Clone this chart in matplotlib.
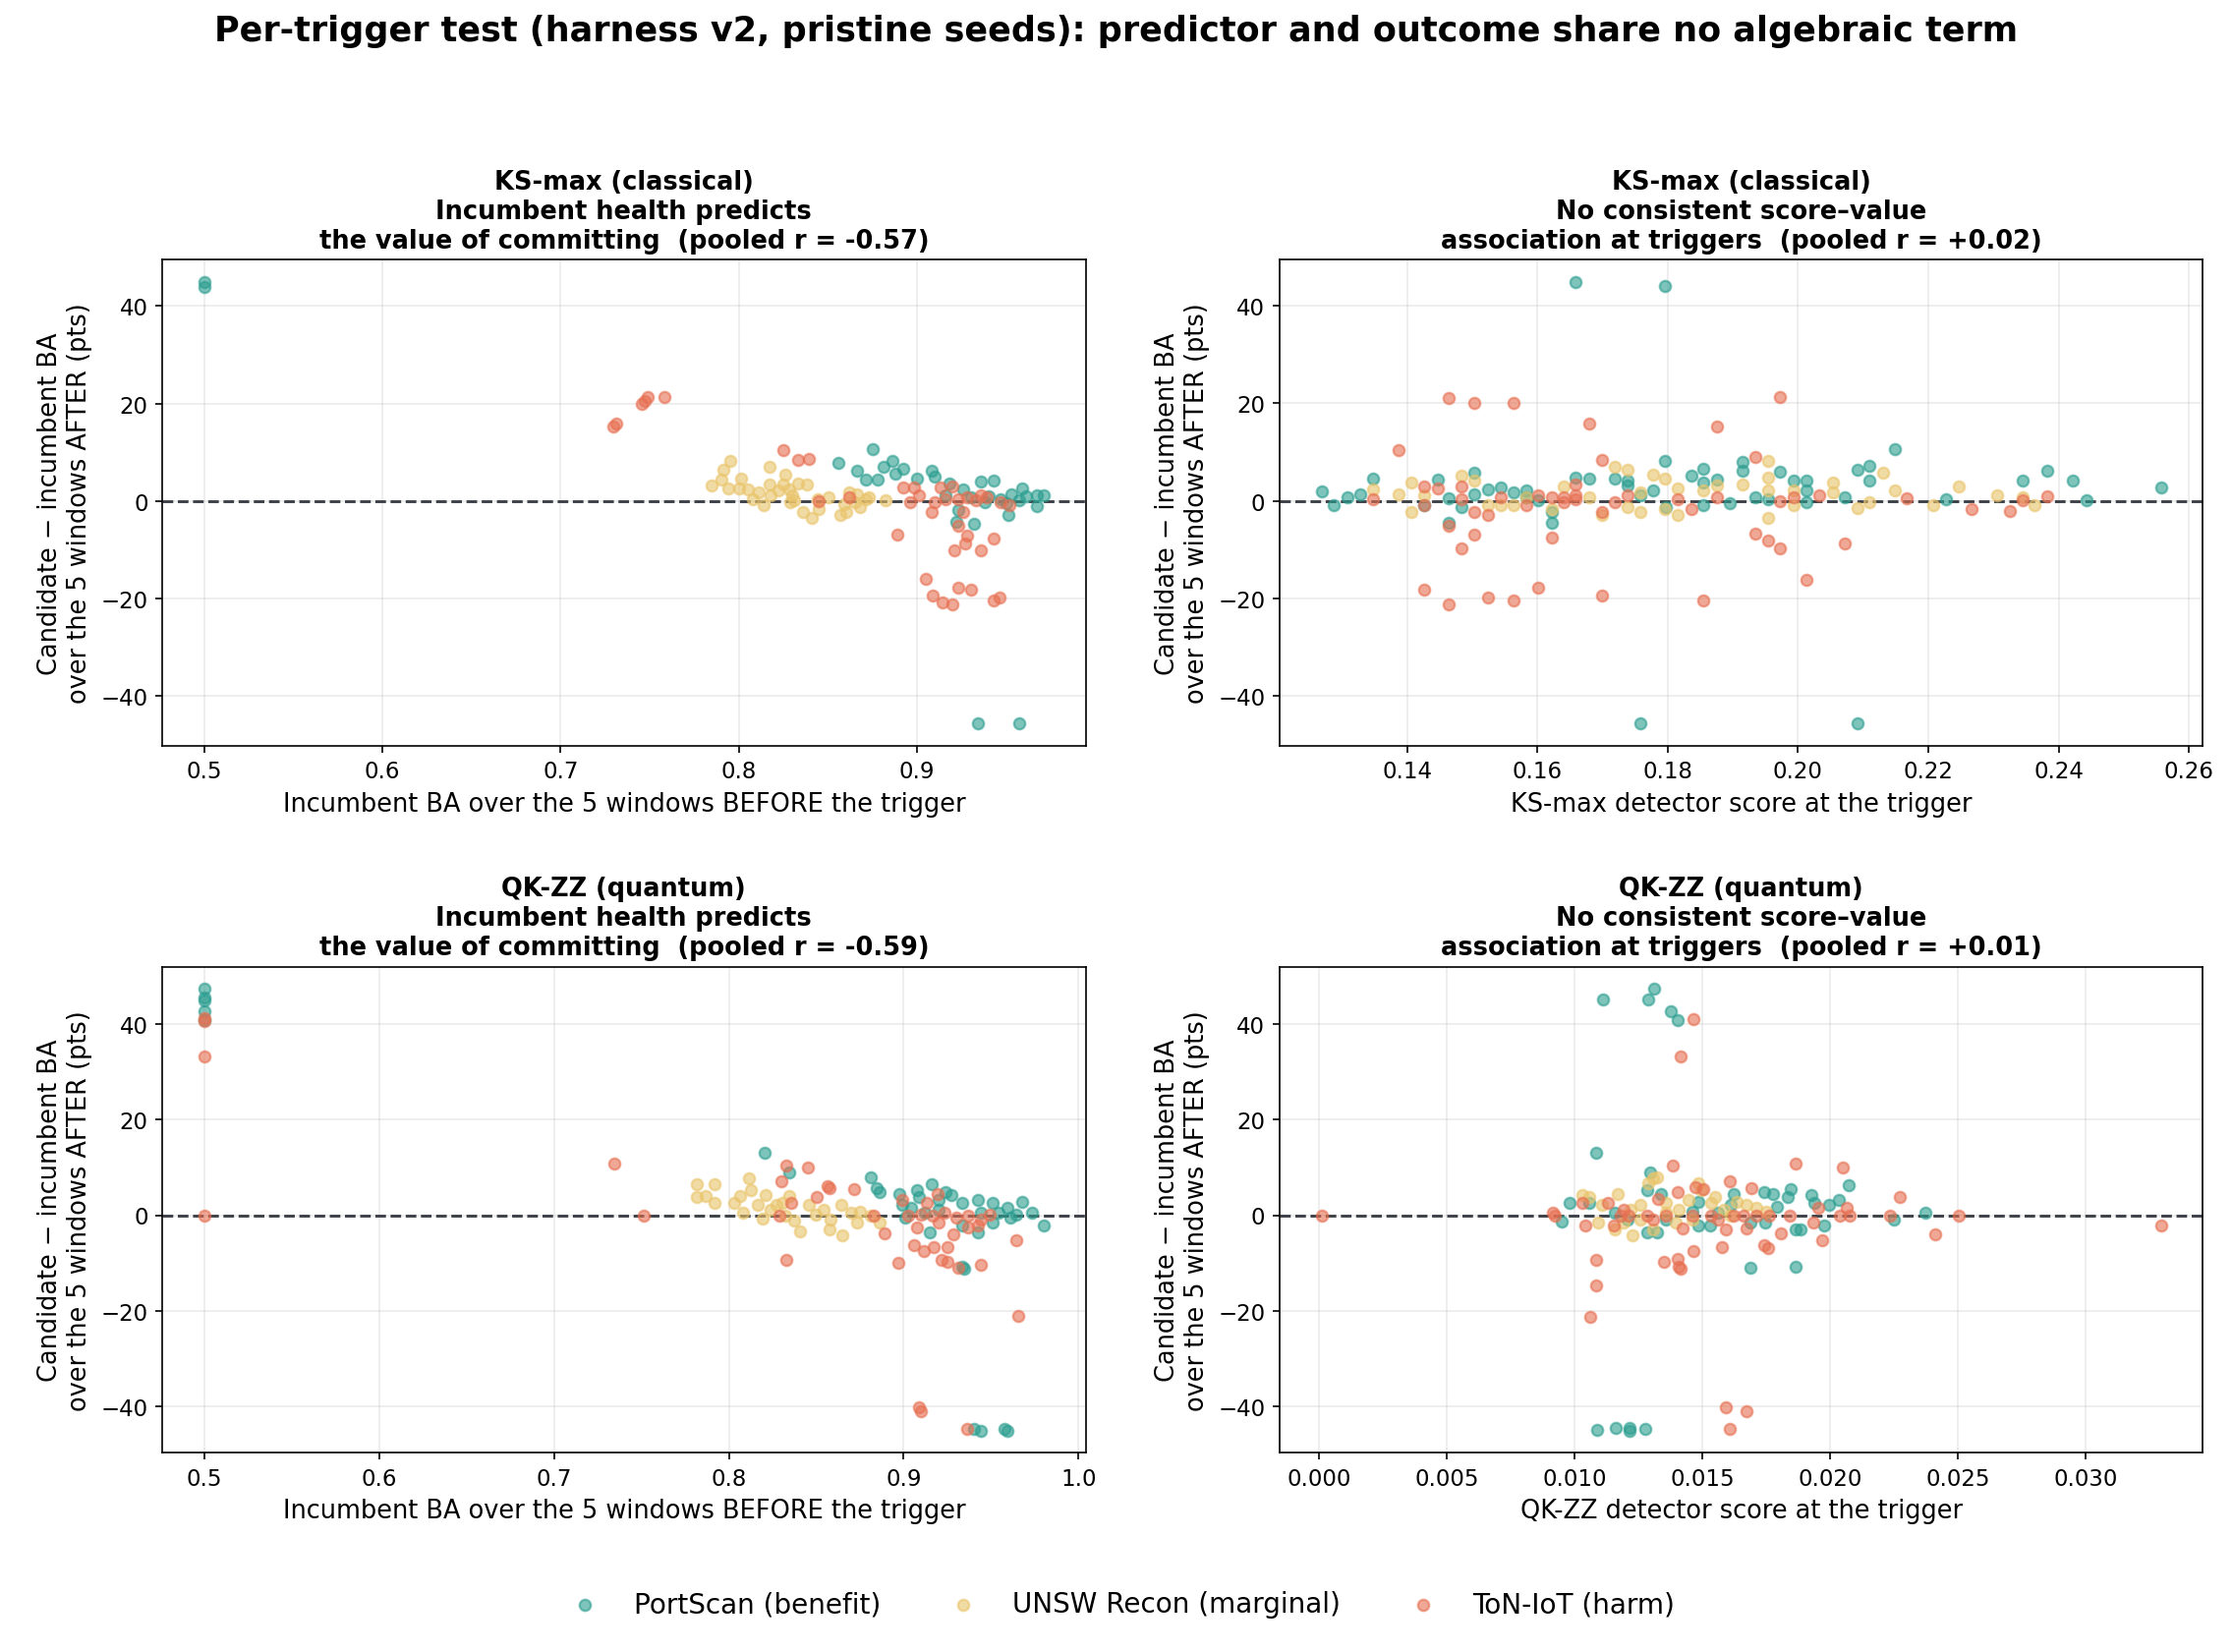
import numpy as np
import matplotlib.pyplot as plt

# ---- data ----
# panel A: KS-max, incumbent BA before vs delta after
ks_health_portscan = [
    (0.5, 45.0), (0.5, 44.0),
    (0.856, 7.9), (0.866, 6.3), (0.871, 4.4), (0.875, 10.6), (0.878, 4.5), (0.881, 7.0),
    (0.886, 8.2), (0.888, 5.6), (0.892, 6.6), (0.900, 4.6), (0.908, 6.3), (0.910, 5.1),
    (0.918, 3.7), (0.926, 2.4), (0.936, 4.1), (0.943, 4.3), (0.953, 1.4), (0.959, 2.5),
    (0.967, 1.1), (0.971, 1.1), (0.967, -1.1), (0.951, -2.9), (0.932, -4.6), (0.922, -4.3),
    (0.923, -1.9), (0.938, -0.3), (0.947, 0.4), (0.957, 0.1), (0.961, 0.9), (0.930, 0.7),
    (0.916, 1.1), (0.940, 1.0), (0.950, -0.5), (0.934, -45.6), (0.957, -45.6),
]
ks_health_unsw = [
    (0.7845, 3.3), (0.795, 8.2), (0.791, 6.4), (0.790, 4.4), (0.801, 4.7), (0.800, 2.5),
    (0.794, 2.5), (0.805, 2.4), (0.808, 0.4), (0.814, -0.8), (0.817, 7.1), (0.826, 5.4),
    (0.817, 3.4), (0.825, 3.4), (0.828, 2.4), (0.833, 3.7), (0.838, 3.4), (0.829, -0.3),
    (0.836, -2.3), (0.841, -3.5), (0.845, -1.6), (0.850, 0.7), (0.857, -2.9), (0.862, 1.7),
    (0.865, -0.3), (0.868, -1.3), (0.866, 1.4), (0.873, 0.7), (0.882, 0.1), (0.860, -2.3),
    (0.830, 1.1), (0.818, 1.1), (0.811, 1.7), (0.822, 2.1), (0.844, 0.4), (0.831, 0.1),
    (0.859, -0.6), (0.871, 0.4),
]
ks_health_toniot = [
    (0.7297, 15.3), (0.7314, 15.9), (0.7456, 20.0), (0.747, 20.6), (0.749, 21.3), (0.758, 21.3),
    (0.825, 10.4), (0.833, 8.4), (0.839, 8.6), (0.845, -0.1), (0.862, 0.7), (0.889, -6.8),
    (0.892, 2.9), (0.898, 2.7), (0.901, 1.1), (0.908, -2.3), (0.913, 2.7), (0.920, 3.1),
    (0.910, -0.3), (0.916, 0.4), (0.923, 0.4), (0.928, 0.7), (0.933, 0.1), (0.939, 0.7),
    (0.947, -0.3), (0.952, -0.9), (0.923, -5.0), (0.928, -7.0), (0.927, -8.6), (0.921, -10.0),
    (0.936, -10.0), (0.943, -7.6), (0.905, -16.0), (0.909, -19.3), (0.914, -20.7),
    (0.920, -21.2), (0.923, -17.8), (0.930, -18.2), (0.943, -20.3), (0.946, -19.8),
    (0.896, -0.3), (0.926, -2.3), (0.936, 1.1),
]

# panel B: KS-max, detector score vs delta after
ks_score_portscan = [
    (0.1269, 2.0), (0.1288, -0.8), (0.1308, 0.7), (0.1328, 1.4), (0.1348, 4.6), (0.1427, -0.9),
    (0.1447, 4.3), (0.1464, -4.4), (0.1464, 0.5), (0.1484, -1.3), (0.1504, 5.8), (0.1504, 1.4),
    (0.1524, 2.4), (0.1544, 2.7), (0.1563, 1.7), (0.1583, 2.1), (0.1583, 0.7), (0.1602, 0.1),
    (0.1622, -4.6), (0.1622, -2.3), (0.1659, 44.9), (0.1659, 4.8), (0.1679, 4.6), (0.1719, 4.6),
    (0.1739, 4.1), (0.1739, 3.1), (0.1758, 1.1), (0.1758, -45.6), (0.1778, 2.1), (0.1796, 44.1),
    (0.1796, 8.1), (0.1798, -1.3), (0.1836, 5.1), (0.1855, 6.6), (0.1855, 3.7), (0.1855, -0.9),
    (0.1875, 4.4), (0.1895, -0.4), (0.1915, 8.0), (0.1915, 6.1), (0.1935, 0.7), (0.1954, 0.4),
    (0.1973, 5.9), (0.1993, 4.2), (0.2013, 4.2), (0.2013, 2.1), (0.2013, -0.3), (0.2072, 0.7),
    (0.2091, 6.3), (0.2091, -45.6), (0.2110, 7.1), (0.2110, 4.2), (0.2148, 10.6), (0.2227, 0.4),
    (0.2344, 4.2), (0.2383, 6.1), (0.2422, 4.2), (0.2442, 0.1), (0.2557, 2.7),
]
ks_score_unsw = [
    (0.1348, 2.3), (0.1387, 1.4), (0.1407, 3.7), (0.1407, -2.3), (0.1427, 1.1), (0.1484, 5.1),
    (0.1504, 4.1), (0.1524, -0.9), (0.1544, -0.9), (0.1563, -0.9), (0.1583, 0.7), (0.1622, -1.6),
    (0.1640, 2.9), (0.1679, 0.7), (0.1699, -2.9), (0.1719, 7.0), (0.1739, 6.4), (0.1739, -1.3),
    (0.1758, -2.3), (0.1758, 1.7), (0.1778, 5.4), (0.1796, 4.6), (0.1796, -1.6), (0.1816, 2.5),
    (0.1816, -2.9), (0.1855, 2.1), (0.1875, 3.1), (0.1915, 3.4), (0.1954, 8.1), (0.1954, 4.8),
    (0.1954, 2.1), (0.1954, -3.5), (0.1993, 2.1), (0.1993, -0.9), (0.2053, 3.7), (0.2053, 1.7),
    (0.2091, -1.5), (0.2110, -0.3), (0.2130, 5.8), (0.2148, 2.1), (0.2207, -0.9), (0.2247, 2.9),
    (0.2305, 1.1), (0.2363, -0.9), (0.2344, 0.7),
]
ks_score_toniot = [
    (0.1348, 0.4), (0.1387, 10.4), (0.1427, 2.9), (0.1427, -0.9), (0.1427, -18.2), (0.1447, 2.5),
    (0.1464, 21.1), (0.1464, -5.1), (0.1464, -21.2), (0.1484, 2.9), (0.1484, 0.4), (0.1484, -9.8),
    (0.1504, 20.1), (0.1504, -2.3), (0.1504, -7.0), (0.1524, -19.9), (0.1524, -2.9), (0.1544, 0.7),
    (0.1563, 20.0), (0.1563, -20.5), (0.1583, -0.9), (0.1602, -17.8), (0.1602, 1.1), (0.1622, 0.7),
    (0.1622, -7.6), (0.1640, -0.3), (0.1659, 3.4), (0.1659, 0.4), (0.1679, 15.9), (0.1699, 8.4),
    (0.1699, -2.3), (0.1699, -19.3), (0.1719, -0.3), (0.1739, 1.1), (0.1816, 0.4), (0.1836, -1.6),
    (0.1855, -20.5), (0.1875, 15.3), (0.1875, 0.7), (0.1935, 9.0), (0.1935, -6.8), (0.1954, -8.2),
    (0.1973, 21.3), (0.1973, -9.8), (0.1973, -0.1), (0.1993, 0.7), (0.2013, -16.1), (0.2033, 1.1),
    (0.2072, -8.8), (0.2167, 0.5), (0.2266, -1.6), (0.2325, -2.1), (0.2344, 0.1), (0.2383, 0.9),
    (0.1640, 0.7), (0.1659, 1.1),
]

# panel C: QK-ZZ, incumbent BA before vs delta after
qk_health_portscan = [
    (0.5, 47.3), (0.5, 45.4), (0.5, 44.9), (0.5, 42.7), (0.5, 40.8),
    (0.8203, 13.0), (0.8347, 9.0), (0.8811, 7.9), (0.8845, 5.6), (0.8863, 4.9), (0.8976, 4.4),
    (0.8993, 2.2), (0.9079, 5.2), (0.9090, 3.9), (0.9158, 6.4), (0.9199, 3.2), (0.9240, 4.9),
    (0.9275, 4.2), (0.9337, 2.5), (0.9423, 3.2), (0.9509, 2.5), (0.9595, 1.5), (0.9680, 2.8),
    (0.9732, 0.6), (0.9801, -2.1), (0.9010, -0.5), (0.9148, -3.5), (0.9337, -2.2), (0.9423, -3.6),
    (0.9509, -1.6), (0.9612, -0.5), (0.9337, -10.7), (0.9344, -11.1), (0.9405, -44.6),
    (0.9440, -45.0), (0.9577, -44.6), (0.9595, -45.0), (0.9199, 1.2), (0.9440, 0.5),
    (0.9543, 0.5), (0.9646, 0.1), (0.9120, 0.5), (0.9045, 1.5),
]
qk_health_unsw = [
    (0.7818, 6.4), (0.7921, 6.4), (0.7818, 3.9), (0.7866, 4.0), (0.7921, 2.6), (0.8031, 2.5),
    (0.8065, 4.0), (0.8117, 7.6), (0.8127, 5.2), (0.8168, 2.2), (0.8210, 4.2), (0.8082, 0.5),
    (0.8196, -0.7), (0.8271, 2.2), (0.8347, 4.0), (0.8323, -0.2), (0.8375, -1.2), (0.8409, -3.3),
    (0.8460, 2.2), (0.8495, 0.1), (0.8540, 1.2), (0.8574, -2.9), (0.8581, -0.9), (0.8643, 2.2),
    (0.8650, -4.3), (0.8701, 0.5), (0.8736, -1.6), (0.8753, 0.8), (0.8814, -0.2), (0.8863, -1.6),
    (0.8306, 2.5), (0.8237, 1.2),
]
qk_health_toniot = [
    (0.5, 41.2), (0.5, 40.6), (0.5, 33.2), (0.5, 0.0), (0.7344, 10.7), (0.7515, 0.0),
    (0.8289, 0.0), (0.8299, 7.1), (0.8330, 10.3), (0.8357, 2.6), (0.8330, -9.4), (0.8454, 10.0),
    (0.8505, 3.9), (0.8564, 6.0), (0.8574, 5.6), (0.8718, 5.4), (0.8828, -0.2), (0.8890, -3.9),
    (0.8969, -10.0), (0.8993, 3.2), (0.9062, -6.3), (0.9079, -2.6), (0.9113, -7.5), (0.9131, 2.5),
    (0.9172, -6.6), (0.9192, 4.5), (0.9216, -9.4), (0.9251, -6.6), (0.9251, -9.8), (0.9285, -4.1),
    (0.9313, -10.9), (0.9089, -40.2), (0.9096, -40.9), (0.9364, -44.6), (0.9440, -10.4),
    (0.9646, -5.3), (0.9656, -21.1), (0.9027, 0.0), (0.9096, 0.1), (0.9165, -0.1), (0.9234, 0.5),
    (0.9302, -0.5), (0.9371, 0.0), (0.9440, -0.9), (0.9491, 0.1), (0.9199, -1.6), (0.9371, -2.6),
    (0.9423, -2.2),
]

# panel D: QK-ZZ, detector score vs delta after
qk_score_portscan = [
    (0.01111, 45.1), (0.01290, 45.1), (0.01311, 47.3), (0.01376, 42.7), (0.01402, 40.8),
    (0.01086, 13.0), (0.01295, 9.0), (0.00980, 2.6), (0.00950, -1.4), (0.01056, 2.6),
    (0.01283, 5.2), (0.01338, 4.4), (0.01283, -3.6), (0.01321, -3.6), (0.01485, 2.8),
    (0.01485, -2.2), (0.01530, -2.1), (0.01624, 4.4), (0.01611, 2.2), (0.01687, -1.6),
    (0.01687, -10.9), (0.01742, 4.9), (0.01775, 4.5), (0.01793, 1.8), (0.01745, -1.6),
    (0.01833, 3.9), (0.01846, 5.4), (0.01864, -2.9), (0.01884, -2.9), (0.01864, -10.7),
    (0.01927, 4.2), (0.01939, 2.5), (0.01977, -2.1), (0.01995, 2.2), (0.02033, 3.2),
    (0.02073, 6.2), (0.02250, -0.9), (0.02374, 0.5), (0.01088, -44.8), (0.01162, -44.4),
    (0.01215, -44.4), (0.01215, -45.0), (0.01278, -44.6), (0.01359, -0.9), (0.01460, 0.8),
    (0.01560, 0.5), (0.01157, 0.5), (0.01207, -0.9),
]
qk_score_unsw = [
    (0.01030, 4.2), (0.01106, 2.2), (0.01169, 4.5), (0.01220, 1.2), (0.01227, -4.3),
    (0.01258, 2.2), (0.01288, 6.6), (0.01308, 7.6), (0.01321, 7.9), (0.01359, 2.5),
    (0.01396, -1.6), (0.01409, 1.2), (0.01447, 3.2), (0.01485, 6.6), (0.01497, 5.2),
    (0.01535, 2.5), (0.01548, 3.9), (0.01586, 1.2), (0.01636, 2.8), (0.01674, 2.2),
    (0.01712, 1.5), (0.01750, 0.8), (0.01194, -1.6), (0.01308, -2.9), (0.01093, -1.6),
    (0.01056, 3.9), (0.01157, -2.9), (0.01359, 0.5), (0.01460, -0.9), (0.01258, -0.9),
    (0.01610, -0.2),
]
qk_score_toniot = [
    (0.00010, 0.0), (0.00917, 0.6), (0.00924, 0.0), (0.01030, 2.5), (0.01043, -2.1),
    (0.01086, -9.4), (0.01086, -14.7), (0.01063, -21.2), (0.01131, 2.5), (0.01152, -2.1),
    (0.01194, 1.2), (0.01212, 0.0), (0.01283, 0.0), (0.01328, 3.3), (0.01351, -9.7),
    (0.01386, 10.3), (0.01402, -9.2), (0.01409, -10.7), (0.01414, -11.1), (0.01404, 4.9),
    (0.01414, 33.2), (0.01422, -2.8), (0.01467, 41.0), (0.01467, -7.5), (0.01472, 5.9),
    (0.01505, 5.4), (0.01460, 0.0), (0.01535, 0.0), (0.01578, -6.6), (0.01591, -2.9),
    (0.01593, -40.1), (0.01606, -44.6), (0.01606, 7.1), (0.01624, 0.0), (0.01674, -40.9),
    (0.01674, -2.8), (0.01692, 5.7), (0.01742, -6.3), (0.01758, -6.9), (0.01806, -3.8),
    (0.01843, -0.2), (0.01864, 10.7), (0.01934, -1.6), (0.01952, 1.5), (0.01970, -5.3),
    (0.02040, 0.0), (0.02050, 10.0), (0.02066, 1.5), (0.02078, 0.0), (0.02235, 0.0),
    (0.02273, 3.9), (0.02412, -4.1), (0.02503, 0.0), (0.03295, -2.1), (0.01182, 0.0),
    (0.01308, -0.9), (0.01359, 0.0), (0.01561, -0.9), (0.01662, 0.0), (0.01712, -0.1),
    (0.01763, 0.0),
]

datasets = ['PortScan (benefit)', 'UNSW Recon (marginal)', 'ToN-IoT (harm)']
colors = ['#2a9d8f', '#e9c46a', '#e76f51']

panels = [
    ([ks_health_portscan, ks_health_unsw, ks_health_toniot],
     'KS-max (classical)\nIncumbent health predicts\nthe value of committing  (pooled r = -0.57)',
     'Incumbent BA over the 5 windows BEFORE the trigger'),
    ([ks_score_portscan, ks_score_unsw, ks_score_toniot],
     'KS-max (classical)\nNo consistent score\u2013value\nassociation at triggers  (pooled r = +0.02)',
     'KS-max detector score at the trigger'),
    ([qk_health_portscan, qk_health_unsw, qk_health_toniot],
     'QK-ZZ (quantum)\nIncumbent health predicts\nthe value of committing  (pooled r = -0.59)',
     'Incumbent BA over the 5 windows BEFORE the trigger'),
    ([qk_score_portscan, qk_score_unsw, qk_score_toniot],
     'QK-ZZ (quantum)\nNo consistent score\u2013value\nassociation at triggers  (pooled r = +0.01)',
     'QK-ZZ detector score at the trigger'),
]

fig, axes = plt.subplots(2, 2, figsize=(15.14, 11.213), dpi=150)
fig.subplots_adjust(left=0.0727, right=0.987, top=0.8424, bottom=0.1206, wspace=0.21, hspace=0.455)

for ax, (series, title, xlabel) in zip(axes.flat, panels):
    for pts, name, col in zip(series, datasets, colors):
        arr = np.array(pts)
        ax.scatter(arr[:, 0], arr[:, 1], s=30, c=col, alpha=0.6, edgecolors=col,
                   linewidths=1.1, label=name, zorder=3)
    ax.axhline(0, color='#3d4148', linestyle='--', linewidth=1.4, zorder=2)
    ax.grid(True, alpha=0.25, linewidth=0.8)
    ax.set_title(title, fontsize=12.3, fontweight='bold')
    ax.set_xlabel(xlabel, fontsize=12.3)
    ax.set_ylabel('Candidate \u2212 incumbent BA\nover the 5 windows AFTER (pts)', fontsize=12.3)
    ax.tick_params(labelsize=11)

fig.suptitle('Per-trigger test (harness v2, pristine seeds): predictor and outcome share no algebraic term',
             fontsize=16.8, fontweight='bold', y=0.981, va='center')

handles, labels = axes[0, 0].get_legend_handles_labels()
fig.legend(handles, labels, loc='center', bbox_to_anchor=(0.5, 0.029), ncol=3,
           frameon=False, fontsize=13.4, columnspacing=2.0)

fig.savefig('out.png', dpi=150)
